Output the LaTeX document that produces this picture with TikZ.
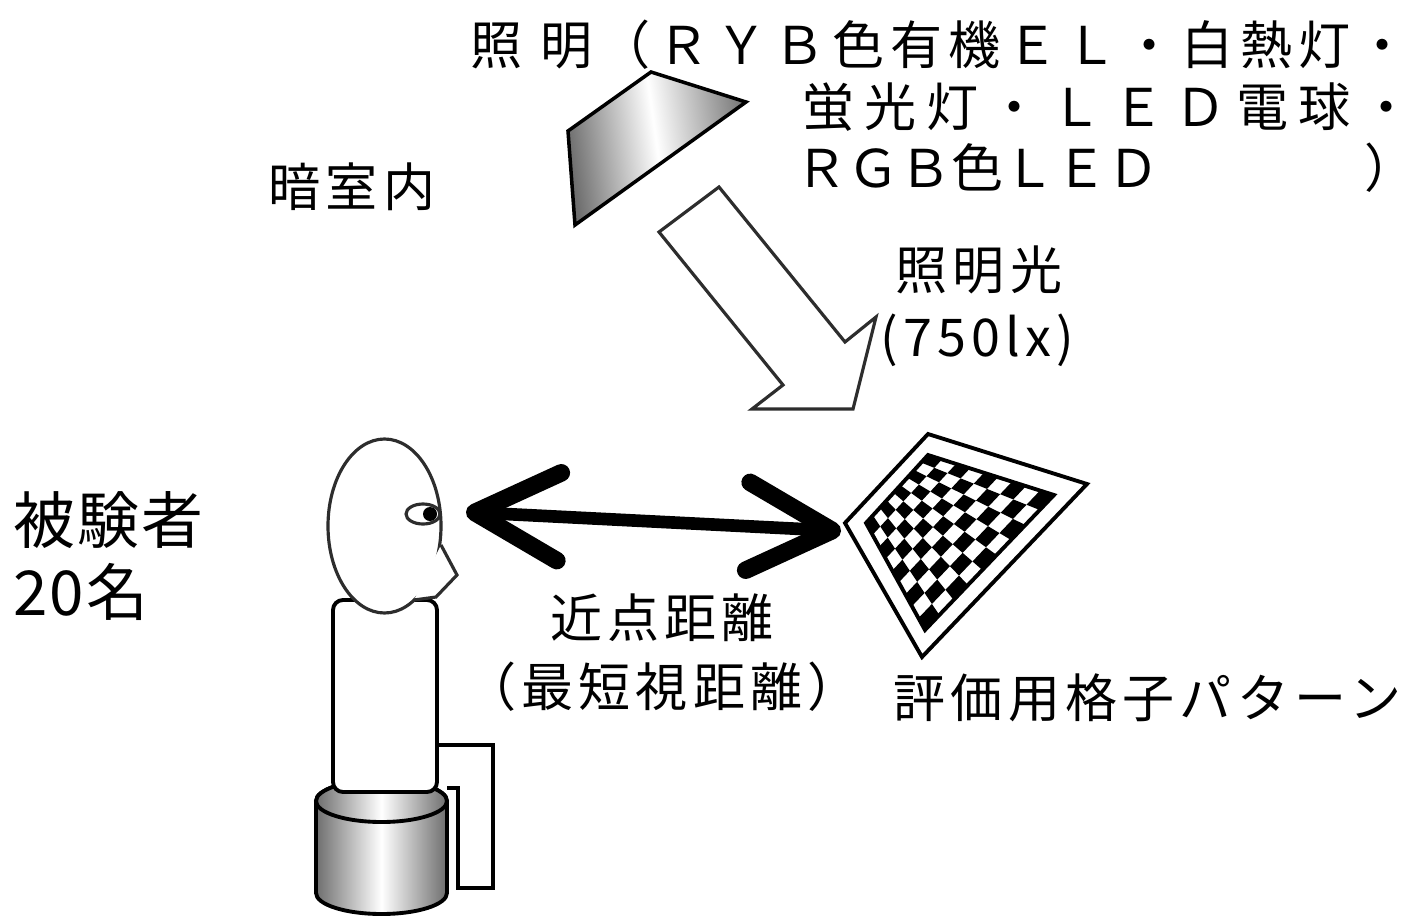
\documentclass[tikz,border=0pt]{standalone}
\usepackage{fontspec}
\usepackage{tikz}
\usetikzlibrary{
    arrows.meta,
    calc
}
\newfontfamily\jpfont[LetterSpace=10]{Noto Sans CJK JP}
\newfontfamily\jpgothic[LetterSpace=3]{Noto Sans CJK JP}
\definecolor{lineGray}{RGB}{45,45,45}
\definecolor{shadeGray}{RGB}{110,110,110}
\tikzset{
  jp/.style      = {font=\jpfont\fontsize{14.8pt}{19.6pt}\selectfont,
                    inner sep=0pt},
  outline/.style = {draw=lineGray, line width=0.9pt},
  heavy/.style   = {draw=black, line width=1.1pt},
  barb/.tip      = {Straight Barb[length=24pt, width=25pt, line width=5pt, round]},
  viewarr/.style = {barb-barb, line width=3.6pt, line cap=round}
}

\begin{document}
\begin{tikzpicture}[x=0.01cm, y=-0.01cm,
    lampshade/.style={left color=shadeGray, right color=shadeGray!90,
                      middle color=white, shading angle=98},
    seatshade/.style={left color=shadeGray, right color=shadeGray,
                      middle color=white}
  ]
    \useasboundingbox (0,0) rectangle (1415,915);

    % lamp and beam of light
    \shade[lampshade, draw=black, line width=1pt]
        (651,72) -- (746,102) -- (575,225) -- (568,131) -- cycle;
    \draw[outline, fill=white]
        (719,187) -- (659,232) -- (783,385) -- (752,409) -- (853,409)
        -- (876,317) -- (845,342) -- cycle;

    \node[jp, anchor=west] (lampA) at (470,45)
        {\addfontfeature{LetterSpace=12}照 明（ＲＹＢ色有機ＥＬ・白熱灯・};
    \node[jp, anchor=east] (lampB) at (1413,107)
        {\addfontfeature{LetterSpace=19}蛍光灯・ＬＥＤ電球・};
    \node[jp, anchor=west, text width=6.2cm] (lampC) at (795,168)
        {\addfontfeature{LetterSpace=0}ＲＧＢ色ＬＥＤ\hfill）};
    \node[jp, anchor=west] (room) at (268,187) {暗室内};
    \node[jp, anchor=west] (light) at (895,270) {照明光};
    \node[jp, anchor=west] (lux) at (880,340) {(750lx)};

    % subject
    \node[anchor=west, inner sep=0pt, align=left,
          font=\jpgothic\fontsize{17.6pt}{20.5pt}\selectfont]
        (subj) at (13,556) {被験者\\20名};

    \shade[seatshade, heavy]
        (316,801) -- (316,893)
        arc[start angle=180, end angle=0, x radius=65.5, y radius=21]
        -- (447,801)
        arc[start angle=0, end angle=-180, x radius=65.5, y radius=21]
        -- cycle;
    \shade[seatshade, heavy] (381.5,801) ellipse[x radius=65.5, y radius=21];
    \draw[heavy] (437,745) -- (493,745) -- (493,888) -- (458,888)
        -- (458,788) -- (447,788);
    \draw[heavy, fill=white, rounded corners=1mm] (333,600) rectangle (437,792);

    \draw[outline, fill=white] (384.5,526) ellipse[x radius=56.5, y radius=87];
    \fill[white] (441,545) -- (457,575) -- (436,597) -- (414,600) -- cycle;
    \draw[outline] (441,545) -- (457,575) -- (436,597) -- (414,600);
    \draw[outline, fill=white] (423,514) ellipse[x radius=17, y radius=10];
    \fill (430,514) circle[radius=7];

    % viewing distance
    \coordinate (eye) at (466,512);
    \coordinate (board) at (841,531);
    \draw[viewarr] (eye) -- (board);
    \node[jp, align=center] (near) at (662,653) {近点距離\\（最短視距離）};

    % grid pattern
    \coordinate (gL) at (866,523);
    \coordinate (gT) at (928,455);
    \coordinate (gR) at (1054,495);
    \coordinate (gB) at (925,630);
    \draw[heavy] (928,434) -- (1087,484) -- (922,657) -- (845,523) -- cycle;
    \foreach \i in {0,...,8}{
      \foreach \j in {0,...,8}{
        \pgfmathtruncatemacro{\odd}{mod(\i+\j,2)}
        \ifnum\odd=0
          \pgfmathsetmacro{\ua}{\i/9}
          \pgfmathsetmacro{\ub}{(\i+1)/9}
          \pgfmathsetmacro{\va}{\j/9}
          \pgfmathsetmacro{\vb}{(\j+1)/9}
          \fill ($($(gL)!\ua!(gT)$)!\va!($(gB)!\ua!(gR)$)$)
             -- ($($(gL)!\ub!(gT)$)!\va!($(gB)!\ub!(gR)$)$)
             -- ($($(gL)!\ub!(gT)$)!\vb!($(gB)!\ub!(gR)$)$)
             -- ($($(gL)!\ua!(gT)$)!\vb!($(gB)!\ua!(gR)$)$) -- cycle;
        \fi
      }
    }
    \draw[heavy] (gL) -- (gT) -- (gR) -- (gB) -- cycle;
    \node[jp, anchor=west] (grid) at (893,698) {評価用格子パターン};
\end{tikzpicture}
\end{document}
